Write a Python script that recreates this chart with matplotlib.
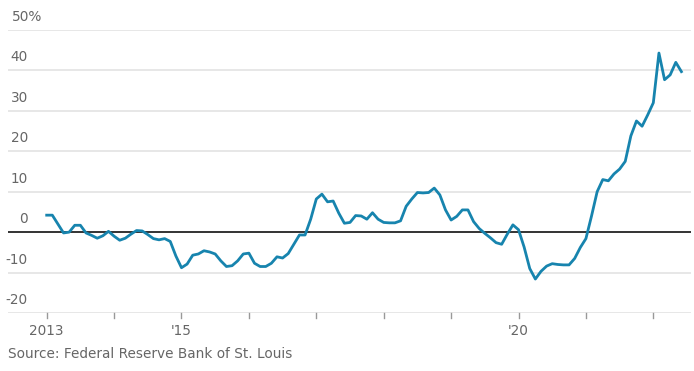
import numpy as np
import matplotlib.pyplot as plt

plt.rcParams['font.family'] = ['Liberation Sans Narrow', 'DejaVu Sans']

# monthly % change, Jan 2013 - Jun 2022
start_year = 2013
values = [4.2, 4.2, 2.0, -0.2, 0.0, 1.7, 1.7, -0.2, -0.8, -1.5, -0.9, 0.2,
          -1.0, -2.0, -1.5, -0.5, 0.4, 0.3, -0.6, -1.6, -1.9, -1.6, -2.3, -5.9,
          -8.8, -7.9, -5.7, -5.4, -4.6, -4.9, -5.4, -7.1, -8.5, -8.3, -7.1, -5.4,
          -5.2, -7.7, -8.5, -8.5, -7.7, -6.1, -6.4, -5.3, -3.0, -0.7, -0.7, 3.2,
          8.2, 9.4, 7.5, 7.7, 4.7, 2.2, 2.4, 4.1, 4.0, 3.2, 4.8, 3.2,
          2.4, 2.3, 2.3, 2.8, 6.4, 8.2, 9.8, 9.7, 9.8, 10.9, 9.2, 5.5,
          3.0, 3.9, 5.5, 5.5, 2.6, 0.9, -0.3, -1.4, -2.6, -3.0, -0.5, 1.8,
          0.6, -3.7, -9.0, -11.6, -9.7, -8.4, -7.8, -8.0, -8.1, -8.1, -6.5, -3.8,
          -1.6, 4.0, 10.0, 13.0, 12.7, 14.4, 15.6, 17.5, 23.8, 27.5, 26.2, 29.0,
          32.0, 44.3, 37.7, 38.9, 42.0, 39.7]
y_ticks = [-20, -10, 0, 10, 20, 30, 40, 50]
y_labels = ['-20', '-10', '0', '10', '20', '30', '40', '50%']
x_ticks = list(range(2013, 2023))
x_labels = {2013: '2013', 2015: "'15", 2020: "'20"}

x = start_year + np.arange(len(values)) / 12

W, H = 694, 371
fig = plt.figure(figsize=(W / 100, H / 100), dpi=100)
ax = fig.add_axes([8 / W, (H - 313) / H, (691 - 8) / W, (313 - 30) / H])
ax.set_xlim(2012.426, 2022.559)
ax.set_ylim(-20, 50)
for s in ax.spines.values():
    s.set_visible(False)
ax.set_yticks([])
ax.set_xticks([])

grey = '#666666'
fs = 9.8
for v, lab in zip(y_ticks, y_labels):
    if v == 0:
        ax.axhline(v, color='#333333', lw=1.4, zorder=2)
    else:
        ax.axhline(v, color='#e3e3e3', lw=1.2, zorder=1)
    if lab.endswith('%'):
        ax.text(4 / 683, v + 1.5, lab, transform=ax.get_yaxis_transform(),
                ha='left', va='bottom', fontsize=fs, color=grey)
    else:
        ax.text(20 / 683, v + 1.5, lab, transform=ax.get_yaxis_transform(),
                ha='right', va='bottom', fontsize=fs, color=grey)

ax.plot(x, values, color='#1784ae', lw=2, zorder=3)

# year ticks under the axis
for yr in x_ticks:
    ax.plot([yr, yr], [-20, -21.3], color='#999999', lw=1, clip_on=False)
    if yr in x_labels:
        ax.text(yr, -22.8, x_labels[yr], ha='center', va='top',
                fontsize=fs, color=grey)

fig.text(8 / W, 1 - 354 / H, 'Source: Federal Reserve Bank of St. Louis',
         ha='left', va='center', fontsize=fs, color=grey)

plt.savefig('out.png', dpi=100)
